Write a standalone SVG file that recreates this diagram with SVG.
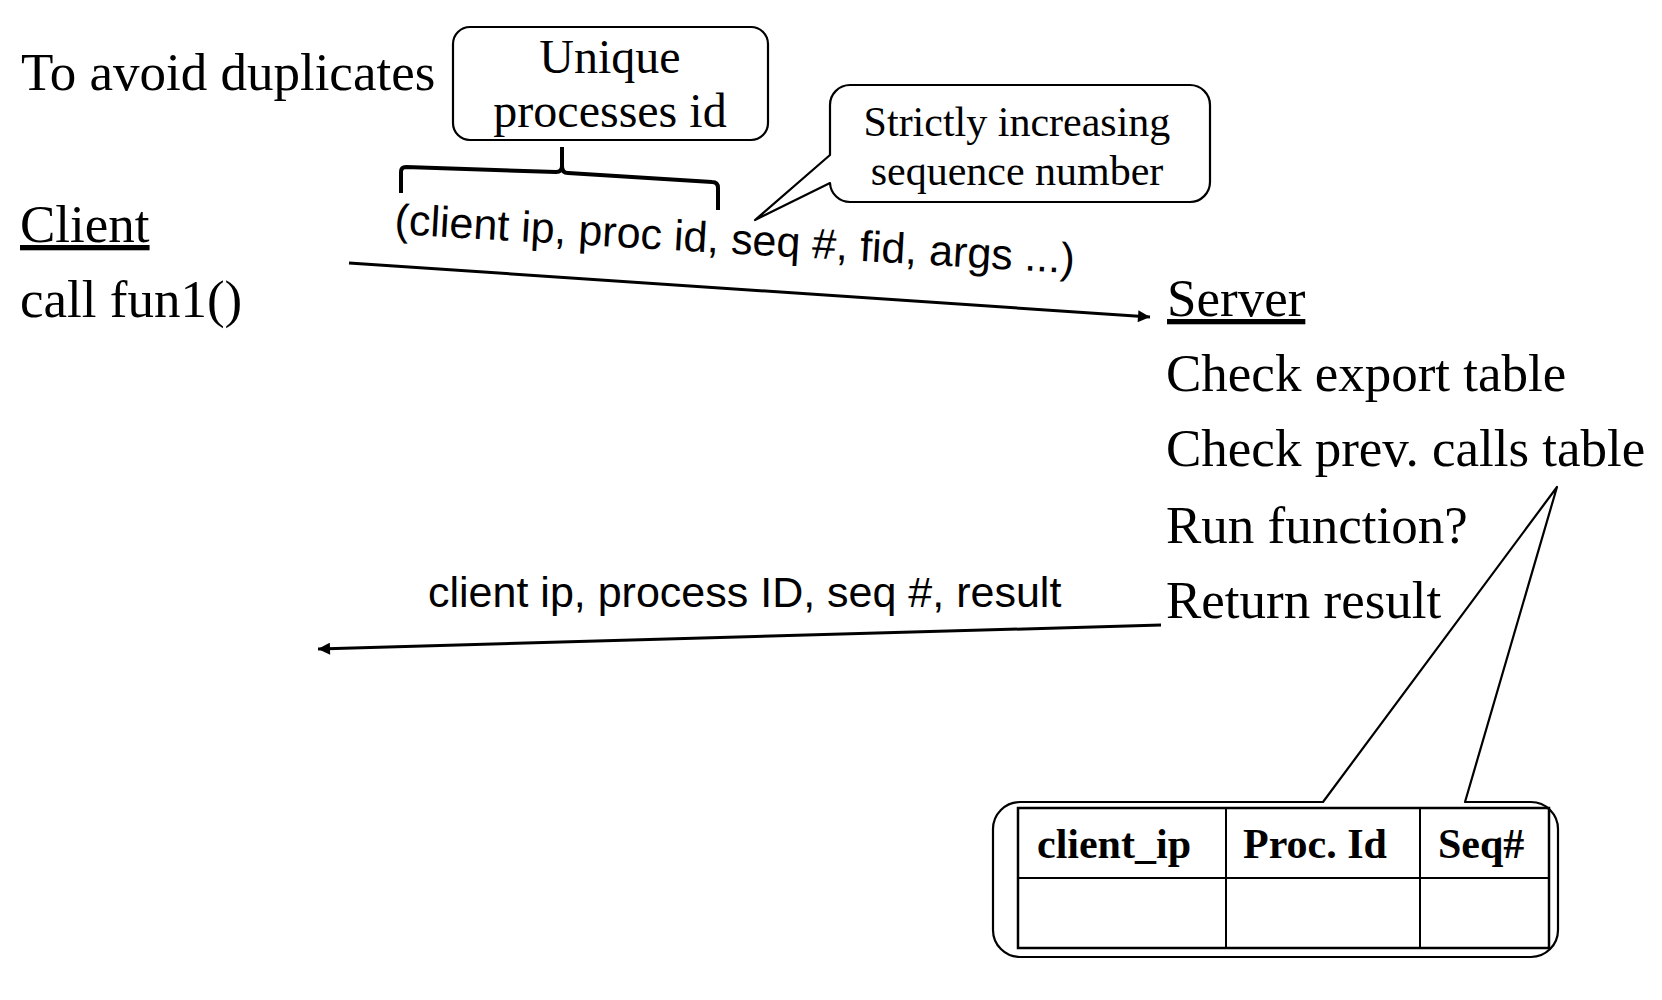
<svg xmlns="http://www.w3.org/2000/svg" width="1662" height="1000" viewBox="0 0 1662 1000">
<defs>
<style>
.serif{font-family:"Liberation Serif","Times New Roman",serif;fill:#000}
.big{font-size:53px}
.mid{font-size:42px}
.sans{font-family:"Liberation Sans",Arial,sans-serif;font-size:43px;fill:#000}
.bold{font-family:"Liberation Serif","Times New Roman",serif;font-size:42px;font-weight:bold;fill:#000}
.shape{fill:#fff;stroke:#000;stroke-width:2.2;stroke-linejoin:round}
.conn{fill:none;stroke:#000;stroke-width:3}
.thin{fill:none;stroke:#000;stroke-width:2}
</style>
<marker id="arr" viewBox="0 0 10 10" refX="10" refY="5" markerWidth="5" markerHeight="4" markerUnits="strokeWidth" orient="auto">
<path d="M0,0 L10,5 L0,10 Z" fill="#000"/>
</marker>
</defs>
<rect width="1662" height="1000" fill="#fff"/>

<g id="title">
<text class="serif big" x="21" y="90">To avoid duplicates</text>
</g>

<g id="client">
<text class="serif big" x="20" y="242" text-decoration="underline">Client</text>
<text class="serif big" x="20" y="317">call fun1()</text>
</g>

<g id="server">
<text class="serif big" x="1167" y="316" text-decoration="underline">Server</text>
<text class="serif big" x="1166" y="391">Check export table</text>
<text class="serif big" x="1166" y="466">Check prev. calls table</text>
<text class="serif big" x="1166" y="543">Run function?</text>
<text class="serif big" x="1166" y="618">Return result</text>
</g>

<g id="unique-callout">
<rect class="shape" x="453" y="27" width="315" height="113" rx="17"/>
<text class="serif" font-size="48" x="610" y="73" text-anchor="middle">Unique</text>
<text class="serif" font-size="48" x="610" y="127" text-anchor="middle">processes id</text>
</g>

<g id="brace">
<path d="M401,193 L401,172 Q401,167 406,167 L556,172 Q562,172 562,166 L562,147 M562,166 Q562,173 568,173 L712,182 Q718,182 718,188 L718,210" fill="none" stroke="#000" stroke-width="4" stroke-linejoin="round"/>
</g>

<g id="seq-callout">
<path class="shape" d="M850,85 H1190 A20,20 0 0 1 1210,105 V182 A20,20 0 0 1 1190,202 H850 A20,20 0 0 1 830,183 L755,220 L830,155 V105 A20,20 0 0 1 850,85 Z"/>
<text class="serif mid" x="1017" y="136" text-anchor="middle">Strictly increasing</text>
<text class="serif mid" x="1017" y="185" text-anchor="middle">sequence number</text>
</g>

<g id="table-callout">
<path class="shape" d="M1020,802 H1323 L1557,487 L1465,802 H1531 A27,27 0 0 1 1558,829 V930 A27,27 0 0 1 1531,957 H1020 A27,27 0 0 1 993,930 V829 A27,27 0 0 1 1020,802 Z"/>
<rect x="1018" y="808" width="531" height="140" fill="none" stroke="#000" stroke-width="2.5"/>
<line class="thin" x1="1018" y1="878" x2="1549" y2="878"/>
<line class="thin" x1="1226" y1="808" x2="1226" y2="948"/>
<line class="thin" x1="1420" y1="808" x2="1420" y2="948"/>
<text class="bold" x="1037" y="858">client_ip</text>
<text class="bold" x="1243" y="858">Proc. Id</text>
<text class="bold" x="1438" y="858">Seq#</text>
</g>

<g id="connectors">
<line class="conn" x1="349" y1="263" x2="1150" y2="317" marker-end="url(#arr)"/>
<text class="sans" x="394" y="234" transform="rotate(3.3 394 234)">(client ip, proc id, seq #, fid, args ...)</text>
<line class="conn" x1="1161" y1="625" x2="318" y2="649" marker-end="url(#arr)"/>
<text class="sans" x="428" y="607">client ip, process ID, seq #, result</text>
</g>
</svg>
